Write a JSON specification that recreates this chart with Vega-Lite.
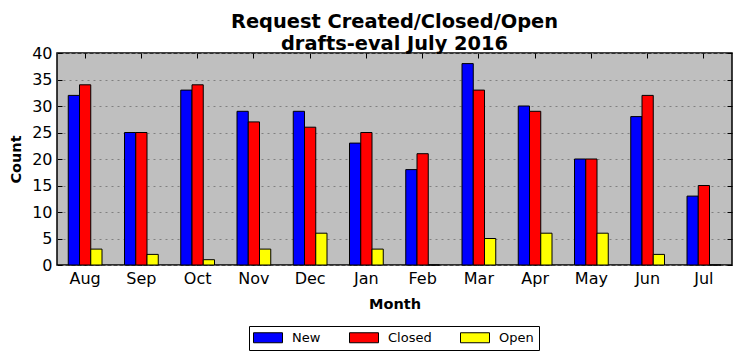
{
  "$schema": "https://vega.github.io/schema/vega-lite/v6.json",
  "width": 675,
  "height": 212,
  "autosize": {"type": "none"},
  "padding": {"left": 57, "top": 53, "right": 9, "bottom": 96},
  "background": "white",
  "config": {
    "font": "DejaVu Sans",
    "view": {"fill": "#bfbfbf", "stroke": "black", "strokeWidth": 1.5}
  },
  "title": {
    "text": ["Request Created/Closed/Open", "drafts-eval July 2016"],
    "font": "DejaVu Sans",
    "fontSize": 19.4,
    "fontWeight": "bold",
    "color": "black",
    "lineHeight": 21.5,
    "anchor": "middle",
    "offset": -9
  },
  "data": {
    "values": [
      {"month": "Aug", "series": "New", "count": 32},
      {"month": "Aug", "series": "Closed", "count": 34},
      {"month": "Aug", "series": "Open", "count": 3},
      {"month": "Sep", "series": "New", "count": 25},
      {"month": "Sep", "series": "Closed", "count": 25},
      {"month": "Sep", "series": "Open", "count": 2},
      {"month": "Oct", "series": "New", "count": 33},
      {"month": "Oct", "series": "Closed", "count": 34},
      {"month": "Oct", "series": "Open", "count": 1},
      {"month": "Nov", "series": "New", "count": 29},
      {"month": "Nov", "series": "Closed", "count": 27},
      {"month": "Nov", "series": "Open", "count": 3},
      {"month": "Dec", "series": "New", "count": 29},
      {"month": "Dec", "series": "Closed", "count": 26},
      {"month": "Dec", "series": "Open", "count": 6},
      {"month": "Jan", "series": "New", "count": 23},
      {"month": "Jan", "series": "Closed", "count": 25},
      {"month": "Jan", "series": "Open", "count": 3},
      {"month": "Feb", "series": "New", "count": 18},
      {"month": "Feb", "series": "Closed", "count": 21},
      {"month": "Feb", "series": "Open", "count": 0},
      {"month": "Mar", "series": "New", "count": 38},
      {"month": "Mar", "series": "Closed", "count": 33},
      {"month": "Mar", "series": "Open", "count": 5},
      {"month": "Apr", "series": "New", "count": 30},
      {"month": "Apr", "series": "Closed", "count": 29},
      {"month": "Apr", "series": "Open", "count": 6},
      {"month": "May", "series": "New", "count": 20},
      {"month": "May", "series": "Closed", "count": 20},
      {"month": "May", "series": "Open", "count": 6},
      {"month": "Jun", "series": "New", "count": 28},
      {"month": "Jun", "series": "Closed", "count": 32},
      {"month": "Jun", "series": "Open", "count": 2},
      {"month": "Jul", "series": "New", "count": 13},
      {"month": "Jul", "series": "Closed", "count": 15},
      {"month": "Jul", "series": "Open", "count": 0}
    ]
  },
  "layer": [
    {
      "mark": {"type": "bar", "stroke": "black", "strokeWidth": 1},
      "encoding": {
        "x": {
          "field": "month", "type": "nominal",
          "sort": ["Aug","Sep","Oct","Nov","Dec","Jan","Feb","Mar","Apr","May","Jun","Jul"],
          "scale": {"paddingInner": 0.4, "paddingOuter": 0.2},
          "axis": {
            "title": "Month", "titleFontSize": 14.5, "titleFontWeight": "bold", "titleColor": "black", "titlePadding": 11,
            "labelAngle": 0, "labelFontSize": 16, "labelColor": "black", "labelPadding": 10,
            "tickSize": -5, "tickColor": "black", "domain": false, "grid": false
          }
        },
        "xOffset": {
          "field": "series", "type": "nominal",
          "sort": ["New","Closed","Open"],
          "scale": {"paddingInner": 0, "paddingOuter": 0}
        },
        "y": {
          "field": "count", "type": "quantitative",
          "scale": {"domain": [0, 40], "nice": false},
          "axis": {
            "title": "Count", "titleFontSize": 14.5, "titleFontWeight": "bold", "titleColor": "black", "titlePadding": 8,
            "values": [0,5,10,15,20,25,30,35,40],
            "labelFontSize": 16, "labelColor": "black", "labelPadding": 10,
            "tickSize": -5, "tickColor": "black", "domain": false,
            "grid": true, "gridColor": "#808080", "gridDash": [2, 4], "gridWidth": 1
          }
        },
        "fill": {
          "field": "series", "type": "nominal",
          "sort": ["New","Closed","Open"],
          "scale": {"domain": ["New","Closed","Open"], "range": ["#0000ff","#ff0000","#ffff00"]},
          "legend": {
            "title": null,
            "orient": "none", "legendX": 192, "legendY": 273,
            "direction": "horizontal", "columns": 3,
            "strokeColor": "black", "fillColor": "white", "padding": 5, "cornerRadius": 0,
            "symbolType": "M-1.4,-1H4.4V1H-1.4Z", "symbolSize": 100,
            "symbolStrokeColor": "black", "symbolStrokeWidth": 1, "symbolOpacity": 1,
            "labelFontSize": 13, "labelColor": "black", "labelOffset": 25, "columnPadding": 26
          }
        }
      }
    },
    {
      "mark": {"type": "bar", "opacity": 0},
      "encoding": {
        "x": {
          "field": "month", "type": "nominal",
          "sort": ["Aug","Sep","Oct","Nov","Dec","Jan","Feb","Mar","Apr","May","Jun","Jul"],
          "axis": {"orient": "top", "title": null, "labels": false, "minExtent": 0, "maxExtent": 0, "offset": 0, "tickSize": -5, "tickColor": "black", "domain": false, "grid": false}
        },
        "xOffset": {
          "field": "series", "type": "nominal",
          "sort": ["New","Closed","Open"]
        },
        "y": {
          "field": "count", "type": "quantitative",
          "axis": {"orient": "right", "title": null, "labels": false, "minExtent": 0, "maxExtent": 0, "offset": 0, "values": [0,5,10,15,20,25,30,35,40], "tickSize": -5, "tickColor": "black", "domain": false, "grid": false}
        }
      }
    }
  ],
  "resolve": {"axis": {"x": "independent", "y": "independent"}}
}
